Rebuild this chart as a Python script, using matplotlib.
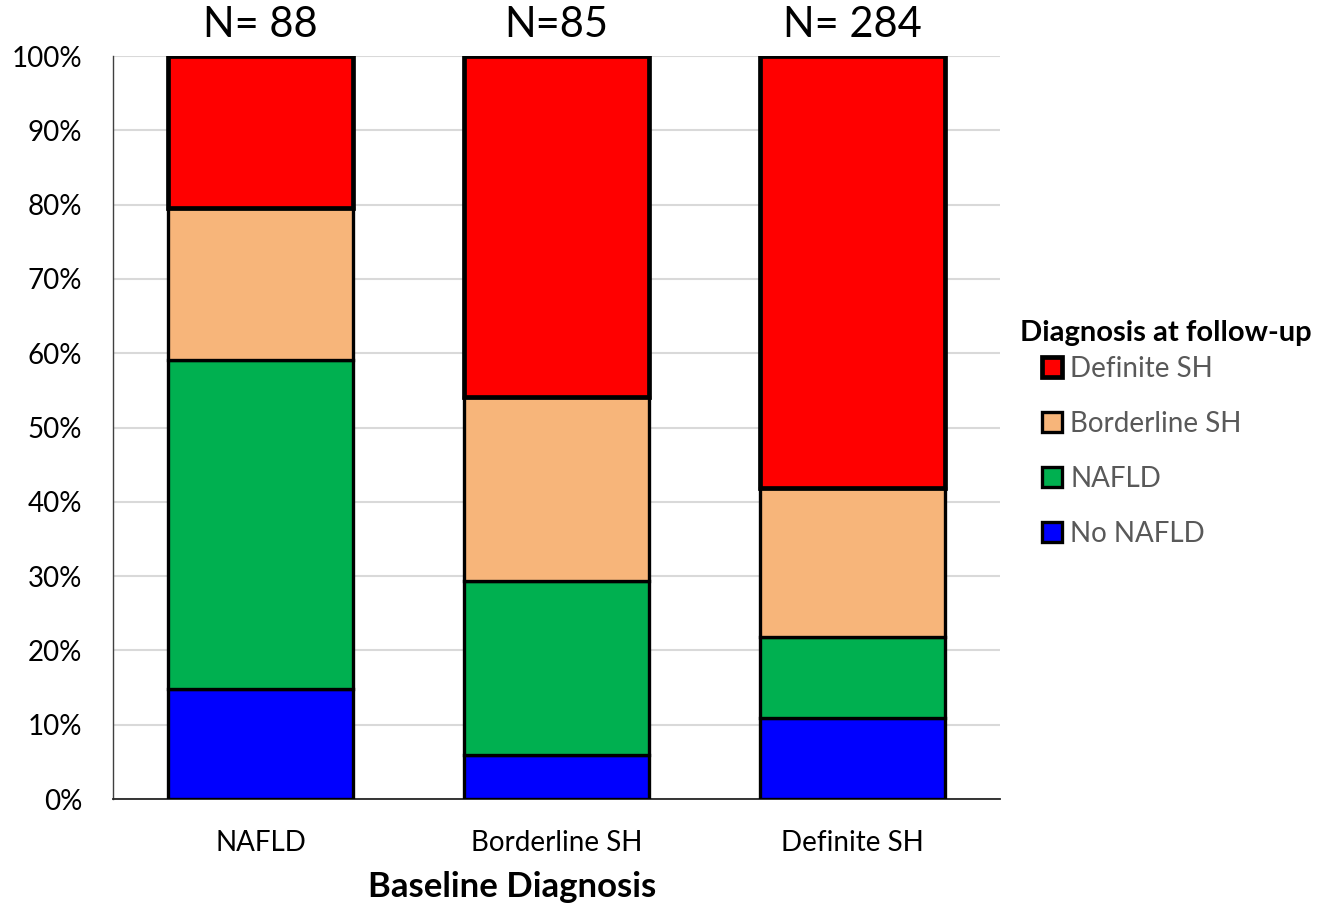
import matplotlib
matplotlib.use("Agg")
import matplotlib.pyplot as plt
import numpy as np

plt.rcParams['font.family'] = ['Lato', 'DejaVu Sans']

# Baseline groups and their sample sizes
baseline = ["NAFLD", "Borderline SH", "Definite SH"]
n_labels = ["N= 88", "N=85", "N= 284"]

# Percentage of each baseline group by diagnosis at follow-up
no_nafld = [14.8, 5.9, 10.9]
nafld = [44.3, 23.5, 10.9]
borderline_sh = [20.4, 24.7, 20.1]
definite_sh = [20.5, 45.9, 58.1]

series = [
    ("No NAFLD", no_nafld, "#0000FF", 2.4),
    ("NAFLD", nafld, "#00B050", 2.4),
    ("Borderline SH", borderline_sh, "#F7B57A", 2.4),
    ("Definite SH", definite_sh, "#FF0000", 3.4),
]

fig = plt.figure(figsize=(13.24, 9.05), dpi=100)
ax = fig.add_axes([0.0853, 0.1171, 0.6700, 0.8210])

x = np.arange(len(baseline))
bottom = np.zeros(len(baseline))
handles = []
for name, vals, color, lw in series:
    bars = ax.bar(x, vals, width=0.625, bottom=bottom, color=color,
                  edgecolor="black", linewidth=lw, label=name, zorder=3)
    handles.append(bars)
    bottom += np.array(vals)

ax.set_xlim(-0.5, 2.5)
ax.set_ylim(0, 100)
ax.set_yticks(np.arange(0, 101, 10))
ax.set_yticklabels([f"{v}%" for v in range(0, 101, 10)], fontsize=20)
ax.set_xticks(x)
ax.set_xticklabels(baseline, fontsize=20)
ax.tick_params(axis="both", length=0)
ax.tick_params(axis="x", pad=22)
ax.tick_params(axis="y", pad=22)

ax.yaxis.grid(True, color="#D9D9D9", linewidth=1.5, zorder=0)
ax.set_axisbelow(True)
for s in ["top", "right"]:
    ax.spines[s].set_visible(False)
ax.spines["left"].set_color("#404040")
ax.spines["left"].set_linewidth(1.0)
ax.spines["bottom"].set_color("#262626")
ax.spines["bottom"].set_linewidth(1.3)

fig.text(512 / 1324, 1 - 887 / 905, "Baseline Diagnosis", fontsize=25,
         fontweight="bold", ha="center", va="center")

for xi, lab in zip(x, n_labels):
    ax.text(xi, 101.6, lab, ha="center", va="bottom", fontsize=30, clip_on=False)

fig.text(1020 / 1324, 1 - 333 / 905, "Diagnosis at follow-up", fontsize=21,
         fontweight="bold", ha="left", va="center")
leg = ax.legend(handles[::-1], [s[0] for s in series][::-1],
                loc="upper left", bbox_to_anchor=(1042 / 1324, 1 - 356 / 905),
                bbox_transform=fig.transFigure,
                frameon=False, fontsize=20,
                handlelength=0.72, handleheight=0.72, handletextpad=0.3,
                labelspacing=1.04, borderpad=0, borderaxespad=0)
for t in leg.get_texts():
    t.set_color("#595959")

fig.savefig("out.png", dpi=100)
